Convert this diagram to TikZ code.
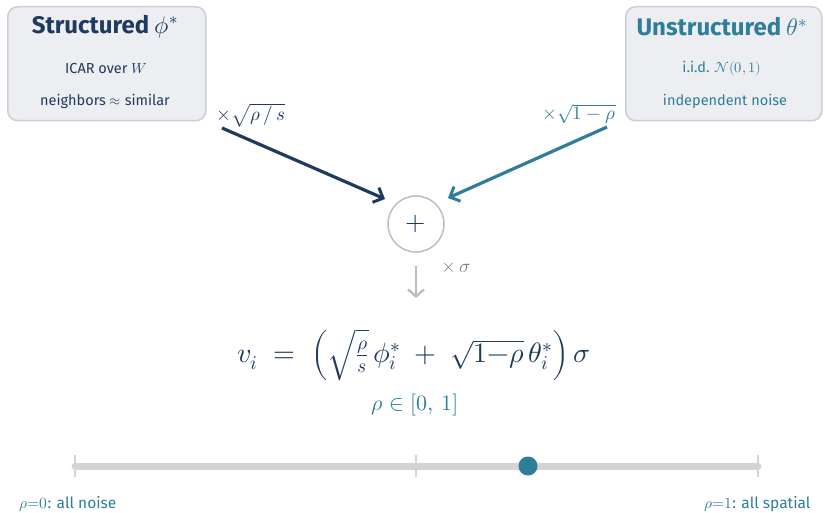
\documentclass[tikz,border=0pt]{standalone}
\usepackage{amsmath}
\usepackage{fontspec}
\usepackage{unicode-math}
\setmainfont{Fira Sans}
\setmathfont{Latin Modern Math}
\usetikzlibrary{arrows.meta}
\definecolor{navy}{RGB}{31,58,95}
\definecolor{teal2}{RGB}{46,125,154}
\definecolor{boxfill}{RGB}{236,238,242}
\definecolor{boxline}{RGB}{204,206,210}
\definecolor{gline}{RGB}{190,190,190}
\definecolor{track}{RGB}{212,212,212}
\begin{document}
\begin{tikzpicture}[x=1pt,y=-1pt,
  card/.style={draw=boxline,line width=1.5pt,fill=boxfill,rounded corners=10pt,minimum width=198pt,minimum height=114pt,anchor=north west},
  title/.style={font=\fontsize{24}{28}\selectfont\bfseries},
  sub/.style={font=\fontsize{14.5}{17}\selectfont},
  flow/.style={line width=3.2pt,-{Straight Barb[length=8pt,width=16pt,line width=3pt]}},
  lab/.style={font=\fontsize{19}{22}\selectfont},
  ends/.style={font=\fontsize{15.5}{18}\selectfont,text=teal2}]
\useasboundingbox (0,0) rectangle (825,513);
% boxes
\node[card] (L) at (7,6) {};
\node[card,minimum width=196pt] (R) at (625,6) {};
\node[title,text=navy] (Lt) at (105,27) {Structured $\phi^*$};
\node[sub,text=navy] (Ls1) at (106,69) {ICAR over $W$};
\node[sub,text=navy] (Ls2) at (105,101) {neighbors $\approx$ similar};
\node[title,text=teal2] (Rt) at (722,27) {Unstructured $\theta^*$};
\node[sub,text=teal2] (Rs1) at (722,69) {i.i.d. $\mathcal{N}(0,1)$};
\node[sub,text=teal2] (Rs2) at (725,101) {independent noise};
% weights
\node[lab,text=navy] (wl) at (251,115) {$\times\sqrt{\rho\,/\,s}$};
\node[lab,text=teal2] (wr) at (579,114) {$\times\sqrt{1-\rho}$};
% sum
\node[circle,draw=gline,line width=1.5pt,minimum size=56pt,inner sep=0pt,text=navy,font=\fontsize{26}{26}\selectfont] (S) at (416,224) {$+$};
\coordinate (la) at (222,128);
\coordinate (ra) at (607,127);
\coordinate (le) at (385,199);
\coordinate (re) at (448,198);
\draw[flow,navy] (la) -- (le);
\draw[flow,teal2] (ra) -- (re);
\coordinate (da) at (416,266);
\coordinate (de) at (416,298);
\draw[line width=2.6pt,gline,-{Straight Barb[length=7pt,width=16pt,line width=2.4pt]}] (da) -- (de);
\node[lab,text=gray] (sg) at (456,268) {$\times\,\sigma$};
% equation
\node[text=navy,font=\fontsize{28}{30}\selectfont] (eq) at (414,355) {$v_i \;=\; \Bigl(\sqrt{\tfrac{\rho}{s}}\,\phi_i^* \;+\; \sqrt{1{-}\rho}\,\theta_i^*\Bigr)\,\sigma$};
\node[text=teal2,font=\fontsize{22}{24}\selectfont] (rg) at (415,405) {$\rho \in [0,\,1]$};
% slider
\coordinate (s0) at (75,466);
\coordinate (s1) at (758,466);
\coordinate (sm) at (416,466);
\draw[track,line width=7pt,line cap=round] (s0) -- (s1);
\foreach \p in {s0,sm,s1}{\draw[track,line width=1.5pt] ([yshift=-11pt]\p) -- ([yshift=11pt]\p);}
\node[circle,fill=teal2,minimum size=19pt,inner sep=0pt] (dot) at (528,466) {};
\node[ends,anchor=west] (e0) at (16,504) {$\rho{=}0$: all noise};
\node[ends,anchor=east] (e1) at (814,504) {$\rho{=}1$: all spatial};
\end{tikzpicture}
\end{document}
